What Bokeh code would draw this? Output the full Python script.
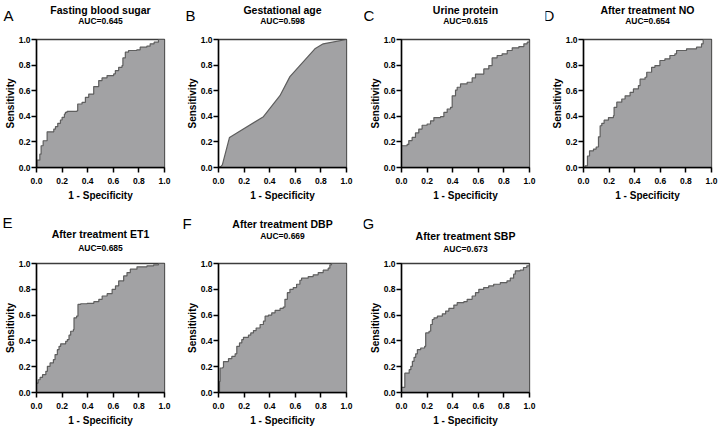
from bokeh.plotting import figure
from bokeh.layouts import row, column
from bokeh.models import FixedTicker, PrintfTickFormatter
from bokeh.core.properties import value
from bokeh.embed import file_html
from bokeh.resources import INLINE

# ---------------- data ----------------
letters = ["A", "B", "C", "D", "E", "F", "G"]
titles = ["Fasting blood sugar", "Gestational age", "Urine protein",
          "After treatment NO", "After treatment ET1", "After treatment DBP",
          "After treatment SBP"]
auc_values = [0.645, 0.598, 0.615, 0.654, 0.685, 0.669, 0.673]
tick_values = [0.0, 0.2, 0.4, 0.6, 0.8, 1.0]
x_title = "1 - Specificity"
y_title = "Sensitivity"

fbs_fpr = [0.0, 0.005, 0.026, 0.036, 0.052, 0.083, 0.135, 0.148, 0.166, 0.187, 0.200, 0.218, 0.226,
           0.239, 0.317, 0.322, 0.356, 0.382, 0.408, 0.447, 0.486, 0.512, 0.551, 0.603, 0.616, 0.642,
           0.668, 0.675, 0.694, 0.719, 0.784, 0.810, 0.862, 0.888, 0.919, 0.953, 1.0]
fbs_tpr = [0.0, 0.057, 0.104, 0.170, 0.209, 0.279, 0.300, 0.319, 0.345, 0.371, 0.392, 0.418, 0.431,
           0.439, 0.444, 0.496, 0.509, 0.548, 0.574, 0.632, 0.679, 0.700, 0.718, 0.731, 0.757, 0.783,
           0.796, 0.856, 0.901, 0.914, 0.919, 0.940, 0.948, 0.966, 0.979, 1.0, 1.0]

ga_fpr = [0.0, 0.02, 0.03, 0.086, 0.351, 0.480, 0.558, 0.753, 0.818, 1.0]
ga_tpr = [0.0, 0.01, 0.02, 0.235, 0.397, 0.561, 0.710, 0.927, 0.966, 1.0]

up_fpr = [0.0, 0.0, 0.044, 0.057, 0.083, 0.109, 0.135, 0.161, 0.200, 0.227, 0.253, 0.305, 0.331,
          0.357, 0.383, 0.396, 0.422, 0.435, 0.461, 0.513, 0.552, 0.578, 0.617, 0.643, 0.682, 0.708,
          0.747, 0.786, 0.826, 0.865, 0.917, 0.956, 0.982, 1.0]
up_tpr = [0.0, 0.170, 0.180, 0.210, 0.235, 0.270, 0.300, 0.330, 0.340, 0.365, 0.390, 0.397, 0.430,
          0.457, 0.470, 0.560, 0.605, 0.627, 0.653, 0.666, 0.700, 0.730, 0.730, 0.770, 0.796, 0.856,
          0.875, 0.888, 0.914, 0.935, 0.945, 0.966, 0.979, 1.0]

no_fpr = [0.0, 0.013, 0.031, 0.047, 0.078, 0.099, 0.117, 0.130, 0.143, 0.161, 0.195, 0.234, 0.239,
          0.260, 0.299, 0.325, 0.364, 0.390, 0.429, 0.442, 0.481, 0.494, 0.532, 0.558, 0.597, 0.636,
          0.675, 0.714, 0.727, 0.805, 0.883, 0.922, 0.935, 1.0]
no_tpr = [0.0, 0.013, 0.090, 0.130, 0.144, 0.160, 0.240, 0.326, 0.345, 0.370, 0.390, 0.405, 0.470,
          0.510, 0.535, 0.560, 0.587, 0.614, 0.640, 0.690, 0.705, 0.744, 0.783, 0.796, 0.836, 0.849,
          0.875, 0.888, 0.914, 0.927, 0.940, 0.966, 1.0, 1.0]

et1_fpr = [0.0, 0.0, 0.013, 0.028, 0.047, 0.073, 0.085, 0.106, 0.132, 0.145, 0.163, 0.176, 0.189,
           0.228, 0.241, 0.254, 0.267, 0.288, 0.293, 0.313, 0.324, 0.345, 0.396, 0.448, 0.487, 0.513,
           0.552, 0.591, 0.617, 0.642, 0.681, 0.707, 0.733, 0.785, 0.863, 0.915, 0.953, 1.0]
et1_tpr = [0.0, 0.073, 0.099, 0.117, 0.138, 0.164, 0.203, 0.229, 0.255, 0.294, 0.332, 0.358, 0.377,
           0.397, 0.410, 0.444, 0.475, 0.488, 0.579, 0.592, 0.683, 0.688, 0.691, 0.704, 0.722, 0.748,
           0.766, 0.800, 0.826, 0.865, 0.904, 0.930, 0.956, 0.974, 0.982, 0.990, 1.0, 1.0]

dbp_fpr = [0.0, 0.008, 0.013, 0.034, 0.039, 0.078, 0.104, 0.130, 0.143, 0.164, 0.182, 0.195, 0.234,
           0.252, 0.273, 0.294, 0.325, 0.351, 0.364, 0.390, 0.416, 0.442, 0.481, 0.506, 0.519, 0.538,
           0.558, 0.584, 0.610, 0.636, 0.649, 0.701, 0.740, 0.779, 0.818, 0.857, 0.870, 0.883, 1.0]
dbp_tpr = [0.0, 0.086, 0.190, 0.195, 0.240, 0.262, 0.280, 0.300, 0.358, 0.384, 0.410, 0.428, 0.444,
           0.462, 0.480, 0.500, 0.527, 0.553, 0.592, 0.600, 0.618, 0.636, 0.652, 0.662, 0.722, 0.774,
           0.800, 0.813, 0.839, 0.870, 0.886, 0.899, 0.912, 0.930, 0.948, 0.964, 0.990, 1.0, 1.0]

sbp_fpr = [0.0, 0.0, 0.026, 0.060, 0.073, 0.085, 0.098, 0.111, 0.124, 0.150, 0.181, 0.189, 0.215,
           0.228, 0.241, 0.254, 0.280, 0.319, 0.345, 0.370, 0.409, 0.435, 0.487, 0.513, 0.552, 0.578,
           0.604, 0.642, 0.681, 0.720, 0.772, 0.824, 0.850, 0.876, 0.889, 0.927, 0.953, 0.979, 1.0]
sbp_tpr = [0.0, 0.040, 0.150, 0.177, 0.203, 0.242, 0.273, 0.300, 0.332, 0.345, 0.358, 0.462, 0.475,
           0.527, 0.566, 0.579, 0.592, 0.610, 0.631, 0.652, 0.678, 0.696, 0.704, 0.722, 0.748, 0.774,
           0.800, 0.813, 0.826, 0.839, 0.852, 0.865, 0.886, 0.917, 0.943, 0.948, 0.969, 0.982, 1.0]

curves = [(fbs_fpr, fbs_tpr, True), (ga_fpr, ga_tpr, False), (up_fpr, up_tpr, True),
          (no_fpr, no_tpr, True), (et1_fpr, et1_tpr, True), (dbp_fpr, dbp_tpr, True),
          (sbp_fpr, sbp_tpr, True)]

# ---------------- layout / style ----------------
FONT = "Liberation Sans"
FILL = "#a2a2a4"
LINE = "#5e5e5e"
FRAME_W = 128
LEFT = 38
col_right = [16, 17, 16, 8]
# per row: header height, plot frame height, plot top border, plot bottom border
row_geom = [(32, 128, 7, 38), (51, 129, 7, 35)]
# per panel, in header pixels: letter x offset from frame, letter / title / auc baselines
panel_pos = [(-33, 17, 22.2, 11.2), (-33, 17, 22.2, 11.2), (-38, 17, 22.2, 11.2),
             (-40, 17, 22.2, 11.2), (-34, 34.3, 22.5, 8.8), (-36, 33.3, 32.5, 20.2),
             (-39, 33, 20.5, 7.8)]


def no_align(fig):
    if "frame_align" in fig.properties():
        fig.frame_align = False


def make_header(i, r, c):
    hh = row_geom[r][0]
    w = LEFT + FRAME_W + col_right[c]
    h = figure(frame_width=w, frame_height=hh, x_range=(0, w), y_range=(0, hh),
               x_axis_type=None, y_axis_type=None, output_backend="svg",
               toolbar_location=None, title_location=None,
               min_border_left=0, min_border_right=0, min_border_top=0, min_border_bottom=0)
    no_align(h)
    h.outline_line_color = None
    h.grid.visible = False
    lx, lb, tb, ab = panel_pos[i]
    cx = LEFT + FRAME_W / 2
    h.text(x=[LEFT + lx], y=[lb], text=[letters[i]], text_font=value(FONT),
           text_font_size=value("15px"), text_font_style="normal", text_color="black",
           text_align="left", text_baseline="alphabetic")
    h.text(x=[cx], y=[tb], text=[titles[i]], text_font=value(FONT),
           text_font_size=value("10.5px"), text_font_style="bold", text_color="black",
           text_align="center", text_baseline="alphabetic")
    h.text(x=[cx], y=[ab], text=[f"AUC={auc_values[i]:.3f}"], text_font=value(FONT),
           text_font_size=value("8.5px"), text_font_style="bold", text_color="black",
           text_align="center", text_baseline="alphabetic")
    return h


def make_panel(i, r, c):
    hh, fh, bt, bb = row_geom[r]
    fpr, tpr, stepped = curves[i]
    p = figure(frame_width=FRAME_W, frame_height=fh, x_range=(0, 1), y_range=(0, 1),
               output_backend="svg", toolbar_location=None, title_location=None,
               min_border_left=LEFT, min_border_right=col_right[c],
               min_border_top=bt, min_border_bottom=bb)
    no_align(p)
    p.grid.visible = False
    p.outline_line_color = "#3c3c3c"
    p.outline_line_width = 1.3
    if stepped:
        p.varea_step(x=fpr, y1=0, y2=tpr, step_mode="after", fill_color=FILL)
        p.step(x=fpr, y=tpr, mode="after", line_color=LINE, line_width=1.2)
    else:
        p.varea(x=fpr, y1=0, y2=tpr, fill_color=FILL)
        p.line(x=fpr, y=tpr, line_color=LINE, line_width=1.2)
    for ax in (p.xaxis[0], p.yaxis[0]):
        ax.ticker = FixedTicker(ticks=tick_values)
        ax.formatter = PrintfTickFormatter(format="%.1f")
        ax.major_label_text_font = FONT
        ax.major_label_text_font_style = "bold"
        ax.major_label_text_font_size = "8.5px"
        ax.major_label_text_color = "black"
        ax.axis_line_width = 1.5
        ax.axis_line_color = "black"
        ax.major_tick_line_width = 1.5
        ax.major_tick_line_color = "black"
        ax.major_tick_out = 5
        ax.major_tick_in = 0
        ax.minor_tick_line_color = None
        ax.axis_label_text_font = FONT
        ax.axis_label_text_font_style = "bold"
        ax.axis_label_text_font_size = "10px"
        ax.axis_label_text_color = "black"
    p.xaxis.major_label_standoff = 5
    p.yaxis.major_label_standoff = 1
    p.xaxis.axis_label = x_title
    p.yaxis.axis_label = y_title
    p.xaxis.axis_label_standoff = 3
    p.yaxis.axis_label_standoff = 0
    return column(make_header(i, r, c), p, spacing=0)


top = [make_panel(i, 0, i) for i in range(4)]
bottom = [make_panel(4 + j, 1, j) for j in range(3)]
layout = column(row(*top, spacing=0), row(*bottom, spacing=0), spacing=0)
layout.margin = (0, 0, 0, -2)

open("out.html", "w").write(file_html(layout, INLINE, title="ROC curves"))
